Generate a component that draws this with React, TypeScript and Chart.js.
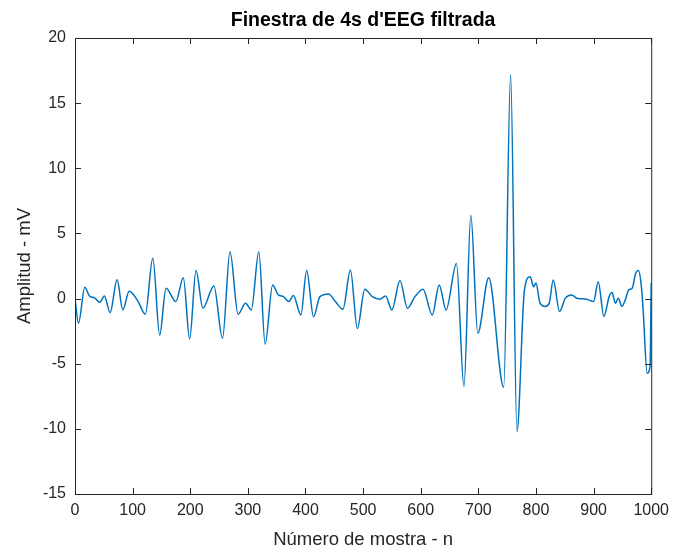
import React, { useEffect, useRef } from "react";
import { Chart, registerables } from "chart.js";

Chart.register(...registerables);

// Filtered EEG window: sample index and amplitude (mV) at the turning points of the trace
const sampleIdx = [
  0, 6, 17, 25, 34, 43, 51, 61, 73, 83, 94, 109, 122, 135, 147, 158, 175, 188, 199, 210,
  222, 241, 256, 269, 283, 296, 306, 319, 330, 343, 353, 362, 371, 379, 392, 402, 414, 425,
  440, 452, 465, 478, 490, 503, 516, 529, 539, 550, 564, 577, 590, 604, 620, 632, 644, 662,
  675, 687, 699, 718, 744, 756, 767, 780, 790, 796, 800, 807, 816, 823, 830, 841, 851, 862,
  871, 888, 900, 908, 918, 927, 932, 938, 943, 949, 955, 961, 967, 973, 978, 983, 986, 993,
  998, 1000,
];
const amplitude = [
  0.0, -1.9, 0.87, 0.2, 0.05, -0.28, 0.2, -1.08, 1.44, -0.87, 0.56, -0.18, -1.2, 3.1, -2.8,
  0.8, -0.23, 1.6, -3.1, 2.15, -0.74, 0.97, -3.05, 3.6, -1.2, -0.36, -0.87, 3.6, -3.5, 1.05,
  0.28, 0.15, -0.23, 0.23, -1.26, 2.15, -1.4, 0.15, 0.36, -0.23, -0.82, 2.2, -2.3, 0.72, 0.15,
  -0.05, 0.2, -0.87, 1.38, -0.74, 0.15, 0.72, -1.26, 1.05, -0.87, 2.7, -6.76, 6.4, -2.67, 1.6,
  -6.8, 17.2, -10.2, 0.66, 1.68, 0.9, 1.2, -0.35, -0.6, -0.35, 1.43, -1.0, 0.03, 0.28, 0.03,
  -0.05, -0.23, 1.3, -1.38, 0.15, 0.46, -0.36, 0.03, -0.6, -0.1, 0.67, 0.8, 1.95, 2.15, 0.9,
  -0.87, -5.74, -5.2, 1.2,
];

const xTickValues = [0, 100, 200, 300, 400, 500, 600, 700, 800, 900, 1000];
const yTickValues = [-15, -10, -5, 0, 5, 10, 15, 20];

const titleText = "Finestra de 4s d'EEG filtrada";
const xLabelText = "Número de mostra - n";
const yLabelText = "Amplitud - mV";

const AXIS_COLOR = "#262626";
const LINE_COLOR = "#0072BD";
const FONT = "'Liberation Sans', Arial, sans-serif";

// Box around the axes with inward tick marks on all four sides, plus the titles
const boxPlugin = {
  id: "boxAxes",
  afterDraw(chart: any) {
    const { ctx, chartArea: a, scales } = chart;
    const xs = scales.x;
    const ys = scales.y;
    const tl = 6;
    ctx.save();
    ctx.strokeStyle = AXIS_COLOR;
    ctx.lineWidth = 1;
    ctx.strokeRect(a.left + 0.5, a.top + 0.5, a.right - a.left, a.bottom - a.top);
    ctx.beginPath();
    for (const v of xTickValues) {
      const px = Math.round(xs.getPixelForValue(v)) + 0.5;
      ctx.moveTo(px, a.bottom);
      ctx.lineTo(px, a.bottom - tl);
      ctx.moveTo(px, a.top);
      ctx.lineTo(px, a.top + tl);
    }
    for (const v of yTickValues) {
      const py = Math.round(ys.getPixelForValue(v)) + 0.5;
      ctx.moveTo(a.left, py);
      ctx.lineTo(a.left + tl, py);
      ctx.moveTo(a.right, py);
      ctx.lineTo(a.right - tl, py);
    }
    ctx.stroke();

    const cx = (a.left + a.right) / 2;
    const cy = (a.top + a.bottom) / 2;
    ctx.textAlign = "center";
    ctx.textBaseline = "middle";
    ctx.fillStyle = "#000000";
    ctx.font = `bold 19.5px ${FONT}`;
    ctx.fillText(titleText, cx, 21);

    ctx.fillStyle = AXIS_COLOR;
    ctx.font = `18.5px ${FONT}`;
    ctx.fillText(xLabelText, cx, 540);

    ctx.translate(25, cy);
    ctx.rotate(-Math.PI / 2);
    ctx.fillText(yLabelText, 0, 0);
    ctx.restore();
  },
};

export default function App() {
  const canvasRef = useRef<HTMLCanvasElement | null>(null);

  useEffect(() => {
    const canvas = canvasRef.current;
    if (!canvas) return;
    const points = sampleIdx.map((x, i) => ({ x, y: amplitude[i] }));
    const chart = new Chart(canvas, {
      type: "line",
      data: {
        datasets: [
          {
            data: points,
            borderColor: LINE_COLOR,
            borderWidth: 1.5,
            pointRadius: 0,
            cubicInterpolationMode: "monotone",
            fill: false,
          },
        ],
      },
      options: {
        responsive: false,
        animation: false,
        events: [],
        layout: { padding: { top: 38, right: 21, left: 0, bottom: 0 } },
        plugins: {
          legend: { display: false },
          tooltip: { enabled: false },
          title: { display: false },
        },
        scales: {
          x: {
            type: "linear",
            min: 0,
            max: 1000,
            afterBuildTicks: (s: any) => {
              s.ticks = xTickValues.map((v) => ({ value: v }));
            },
            ticks: {
              color: AXIS_COLOR,
              font: { family: FONT, size: 16 },
              padding: 7,
              maxRotation: 0,
              autoSkip: false,
              callback: (v: any) => String(v),
            },
            grid: { display: false, drawTicks: false },
            border: { display: false },
            afterFit: (s: any) => {
              s.height = 58;
            },
          },
          y: {
            type: "linear",
            min: -15,
            max: 20,
            afterBuildTicks: (s: any) => {
              s.ticks = yTickValues.map((v) => ({ value: v }));
            },
            ticks: {
              color: AXIS_COLOR,
              font: { family: FONT, size: 16 },
              padding: 9,
              autoSkip: false,
              callback: (v: any) => String(v),
            },
            grid: { display: false, drawTicks: false },
            border: { display: false },
            afterFit: (s: any) => {
              s.width = 75;
            },
          },
        },
      },
      plugins: [boxPlugin],
    } as any);
    return () => chart.destroy();
  }, []);

  return (
    <div style={{ position: "absolute", left: 0, top: 0, width: 676, height: 552, background: "#fff" }}>
      <canvas ref={canvasRef} width={676} height={552} />
    </div>
  );
}
